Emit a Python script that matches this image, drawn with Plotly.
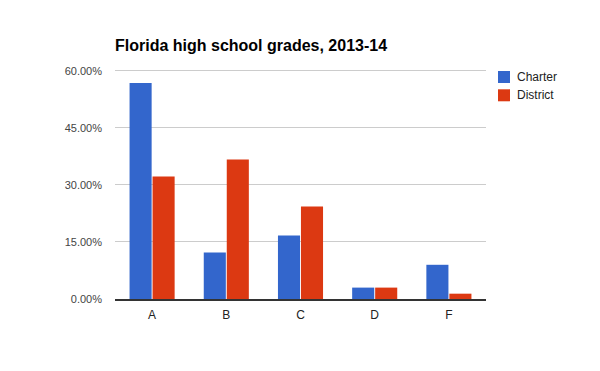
import plotly.graph_objects as go

grades = ["A", "B", "C", "D", "F"]
series_names = ["Charter", "District"]
charter = [56.8, 12.2, 16.7, 3.0, 9.0]
district = [32.2, 36.7, 24.3, 3.0, 1.4]
y_ticks = [0, 15, 30, 45, 60]
colors = ["#3366cc", "#dc3912"]

# page body has an 8px default margin; figure is sized to fit the 600x371 window
W, H = 592, 363
L, T, PW, PH = 107, 61, 371, 230
YMAX = 60.5

fig = go.Figure()
for name, vals, col in zip(series_names, [charter, district], colors):
    fig.add_trace(go.Bar(name=name, x=grades, y=vals, marker_color=col,
                         marker_line_width=0, showlegend=False))

# manual legend (square + label) to the right of the plot
shapes, annotations = [], []
for i, (name, col) in enumerate(zip(series_names, colors)):
    top = 71 + i * 18.3 - 8 - T          # px from plot top
    y0 = 1 - top / PH
    y1 = 1 - (top + 12) / PH
    x0 = (498 - 8 - L) / PW
    x1 = (510 - 8 - L) / PW
    shapes.append(dict(type="rect", xref="paper", yref="paper",
                       x0=x0, x1=x1, y0=y1, y1=y0,
                       fillcolor=col, line_width=0))
    annotations.append(dict(xref="paper", yref="paper",
                            x=(515 - 8 - L) / PW, y=(y0 + y1) / 2,
                            xanchor="left", yanchor="middle", showarrow=False,
                            text=name, font=dict(size=12, color="#222")))

fig.update_layout(
    width=W, height=H,
    margin=dict(l=L, r=W - L - PW, t=T, b=H - T - PH, autoexpand=False),
    paper_bgcolor="white", plot_bgcolor="white",
    barmode="group", bargap=0.38, bargroupgap=0.04,
    font=dict(family="Liberation Sans, Arial, sans-serif", size=11, color="#444"),
    title=dict(text="<b>Florida high school grades, 2013-14</b>",
               x=L / W, xref="container", xanchor="left",
               y=1 - 37 / H, yref="container", yanchor="middle",
               font=dict(size=16, color="#000")),
    showlegend=False,
    shapes=shapes, annotations=annotations,
    xaxis=dict(showgrid=False, showline=True, linecolor="#333", linewidth=1.5,
               ticks="", ticklabelstandoff=4, tickfont=dict(size=12, color="#222")),
    yaxis=dict(range=[0, YMAX], tickvals=y_ticks,
               ticktext=[f"{v:.2f}%" for v in y_ticks],
               showgrid=True, gridcolor="#cccccc", gridwidth=1, zeroline=False,
               showline=False, ticks="", ticklabelstandoff=12,
               tickfont=dict(size=11, color="#444")),
)

fig.write_html("out.html")
